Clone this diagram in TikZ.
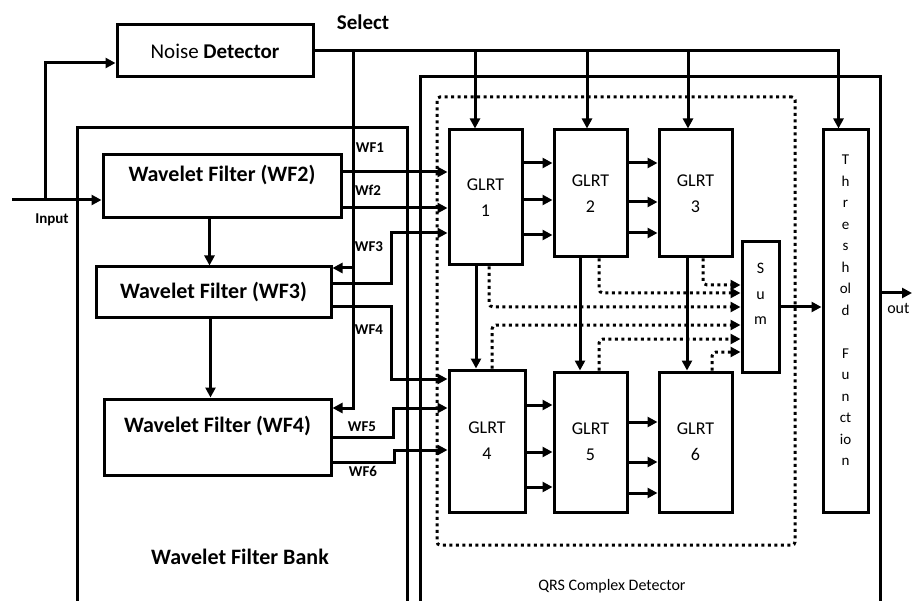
\documentclass[tikz,border=0pt]{standalone}
\usepackage{fontspec}
\setmainfont{Carlito}
\usetikzlibrary{arrows.meta,positioning}

\begin{document}
\begin{tikzpicture}[
    x=1pt, y=-1pt,
    line width=3pt,
    bankbox/.style={draw, line width=3pt, inner sep=0pt},
    blk/.style={draw, line width=3pt, fill=white, inner sep=0pt, align=center},
    wfbox/.style={blk, font=\fontsize{22}{26}\selectfont\bfseries},
    glrt/.style={blk, minimum width=73pt, font=\fontsize{18}{26}\selectfont},
    arr/.style={-{Triangle[length=10pt,width=10pt]}, line width=3pt},
    dotarr/.style={arr, dash pattern=on 3pt off 3.5pt, rounded corners=4pt},
    wflbl/.style={font=\fontsize{15}{18}\selectfont\bfseries, inner sep=0pt}
]
    \useasboundingbox (0,0) rectangle (912,601);

    % Outer frames
    \node[bankbox, minimum width=330pt, minimum height=512pt] (bank) at (242,384) {};
    \node[bankbox, minimum width=460pt, minimum height=563pt] (qrs) at (650,358.5) {};
    \node[bankbox, dash pattern=on 3pt off 3.5pt, rounded corners=3pt,
          minimum width=358pt, minimum height=448pt] (grp) at (616,321) {};

    % Blocks
    \node[blk, minimum width=196pt, minimum height=52pt, font=\fontsize{21}{25}\selectfont] (noise) at (215,51) {Noise \textbf{Detector}};
    \node[wfbox, minimum width=238pt, minimum height=63pt] (wf2) at (222,186.5) {Wavelet Filter (WF2)\\ ~};
    \node[wfbox, minimum width=235pt, minimum height=50pt] (wf3) at (213.5,292) {Wavelet Filter (WF3)};
    \node[wfbox, minimum width=227pt, minimum height=76pt] (wf4) at (217.5,437) {Wavelet Filter (WF4)\\ ~};

    \node[glrt, minimum height=135pt] (glrt1) at (485.5,197.5) {GLRT\\1};
    \node[glrt, minimum height=127pt] (glrt2) at (590.5,193.5) {GLRT\\2};
    \node[glrt, minimum height=127pt] (glrt3) at (695.5,193.5) {GLRT\\3};
    \node[glrt, minimum width=76pt, minimum height=142pt] (glrt4) at (487,441) {GLRT\\4};
    \node[glrt, minimum height=140pt] (glrt5) at (590.5,442) {GLRT\\5};
    \node[glrt, minimum height=140pt] (glrt6) at (695.5,442) {GLRT\\6};

    \node[blk, minimum width=37pt, minimum height=130pt, font=\fontsize{16}{25.5}\selectfont] (sum) at (760.5,307) {S\\u\\m\\ ~};
    \node[blk, minimum width=45pt, minimum height=382pt, font=\fontsize{15}{21.5}\selectfont] (thresh) at (845.5,321)
        {T\\h\\r\\e\\s\\h\\ol\\d\\[21.5pt]F\\u\\n\\ct\\io\\n\\ ~};

    % Labels
    \node[font=\fontsize{21}{25}\selectfont\bfseries] (sellbl) at (363,22) {Select};
    \node[font=\fontsize{15}{18}\selectfont\bfseries] (inlbl) at (52,220) {Input};
    \node[font=\fontsize{22}{26}\selectfont\bfseries] (banklbl) at (240,557) {Wavelet Filter Bank};
    \node[font=\fontsize{16}{20}\selectfont] (qrslbl) at (612,586) {QRS Complex Detector};
    \node[font=\fontsize{16}{20}\selectfont, anchor=east, inner sep=0pt] (outlbl) at (911,308) {out};
    \node[wflbl] (l1) at (370,148) {WF1};
    \node[wflbl] (l2) at (368,190) {Wf2};
    \node[wflbl] (l3) at (369,247) {WF3};
    \node[wflbl] (l4) at (369,330) {WF4};
    \node[wflbl] (l5) at (362,427) {WF5};
    \node[wflbl] (l6) at (363,471) {WF6};

    % Input and noise detector
    \coordinate (in) at (12,200);
    \draw[arr] (in) -- (in -| wf2.west);
    \draw[arr] ([xshift=33pt]in) |- ([yshift=-12pt]noise.west);

    \coordinate[right=39pt of noise.east] (sel);
    \draw[arr] (noise.east) -| ([xshift=-7pt]thresh.north);
    \foreach \g/\s in {glrt1/-10.5, glrt2/-3.5, glrt3/-7.5}
        \draw[arr] ([xshift=\s pt]\g.north |- noise.east) -- ([xshift=\s pt]\g.north);

    % Select lines
    \draw[arr] (sel) |- ([yshift=29pt]wf4.east);
    \draw[arr] ([yshift=24pt]wf3.east -| sel) -- ([yshift=24pt]wf3.east);

    % Filter bank
    \draw[arr] ([xshift=-4pt]wf2.south -| wf3.north) -- ([xshift=-4pt]wf3.north);
    \draw[arr] ([xshift=-3pt]wf3.south) -- ([xshift=-3pt]wf3.south |- wf4.north);

    % Wavelet outputs
    \draw[arr] ([yshift=14.5pt]wf2.east) -- ([yshift=14.5pt]wf2.east -| glrt1.west);
    \draw[arr] ([yshift=-21.5pt]wf2.east) -- ([yshift=-21.5pt]wf2.east -| glrt1.west);
    \draw[arr] ([yshift=8pt]wf3.east) -- ++(59,0) |- ([yshift=-35.5pt]glrt1.west);
    \draw[arr] ([yshift=-15pt]wf3.east) -- ++(59,0) |- ([yshift=62pt]glrt4.west);
    \draw[arr] (wf4.east) -- ++(61,0) |- ([yshift=33pt]glrt4.west);
    \draw[arr] ([yshift=-25pt]wf4.east) -- ++(62,0) |- ([yshift=-9pt]glrt4.west);

    % GLRT chain
    \foreach \a/\b/\s in {glrt1/glrt2/34.5, glrt1/glrt2/-2.5, glrt1/glrt2/-37.5,
                          glrt2/glrt3/30.5, glrt2/glrt3/-8.5, glrt2/glrt3/-39.5,
                          glrt4/glrt5/36, glrt4/glrt5/-11, glrt4/glrt5/-46,
                          glrt5/glrt6/20, glrt5/glrt6/-20, glrt5/glrt6/-51}
        \draw[arr] ([yshift=\s pt]\a.east) -- ([yshift=\s pt]\a.east -| \b.west);
    \foreach \a/\b/\s in {glrt1/glrt4/-9.5, glrt2/glrt5/-10.5, glrt3/glrt6/-8.5}
        \draw[arr] ([xshift=\s pt]\a.south) -- ([xshift=\s pt]\a.south |- \b.north);

    % Dotted lines into sum
    \foreach \g/\s/\t in {glrt3.south/7.5/22, glrt2.south/8.5/14, glrt1.south/3.5/0,
                          glrt4.north/5/-18, glrt5.north/8.5/-32, glrt6.north/16.5/-45}
        \draw[dotarr] ([xshift=\s pt]\g) |- ([yshift=\t pt]sum.west);

    % Sum, threshold and output
    \draw[arr] (sum.east) -- (sum.east -| thresh.west);
    \coordinate (out) at (912,293);
    \draw[arr] (out -| qrs.east) -- (out);
\end{tikzpicture}
\end{document}
